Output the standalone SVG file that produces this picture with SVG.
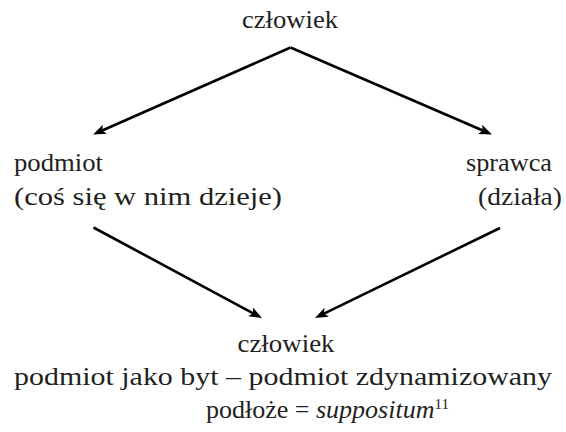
<svg xmlns="http://www.w3.org/2000/svg" width="566" height="432" viewBox="0 0 566 432">
<style>
text{font-family:'Liberation Serif',serif;font-size:26px;fill:#231f20}
.c{stroke:#000;stroke-width:2.6;fill:none}
.h{fill:#000;stroke:none}
</style>
<rect width="566" height="432" fill="#fff"/>
<g id="connectors">
<path class="c" d="M290.5,47.5 L102.2,130.5"/>
<path class="h" d="M93,134.5 L102.9,124.7 L102.2,130.5 L106.9,133.8 Z"/>
<path class="c" d="M290.5,47.5 L482.8,130.5"/>
<path class="h" d="M492,134.5 L482.1,124.8 L482.8,130.5 L478.1,133.9 Z"/>
<path class="c" d="M93.5,227.5 L253.2,313.3"/>
<path class="h" d="M262,318 L252.9,307.5 L253.2,313.3 L248.2,316.3 Z"/>
<path class="c" d="M500,228 L324,313.6"/>
<path class="h" d="M315,318 L328.9,316.8 L324,313.6 L324.5,307.8 Z"/>
</g>
<g id="top">
<text x="290" y="28" text-anchor="middle" textLength="96" lengthAdjust="spacingAndGlyphs">człowiek</text>
</g>
<g id="podmiot">
<text x="14" y="171" textLength="89" lengthAdjust="spacingAndGlyphs">podmiot</text>
<text x="14" y="205" textLength="268" lengthAdjust="spacingAndGlyphs">(coś się w nim dzieje)</text>
</g>
<g id="sprawca">
<text x="552" y="171" text-anchor="end" textLength="86" lengthAdjust="spacingAndGlyphs">sprawca</text>
<text x="562" y="205" text-anchor="end" textLength="84" lengthAdjust="spacingAndGlyphs">(działa)</text>
</g>
<g id="bottom">
<text x="286" y="352" text-anchor="middle" textLength="97" lengthAdjust="spacingAndGlyphs">człowiek</text>
<text x="283" y="385" text-anchor="middle" textLength="538" lengthAdjust="spacingAndGlyphs">podmiot jako byt – podmiot zdynamizowany</text>
<text x="206" y="418">podłoże = <tspan font-style="italic">suppositum</tspan><tspan font-size="15" dy="-9">11</tspan></text>
</g>
</svg>
